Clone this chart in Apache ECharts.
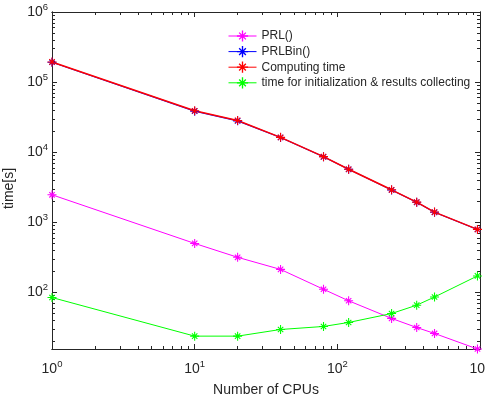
<!DOCTYPE html>
<html>
<head>
<meta charset="utf-8">
<script src="https://cdn.jsdelivr.net/npm/echarts@6/dist/echarts.min.js"></script>
<style>
  html, body { margin: 0; padding: 0; background: #fff; }
  #chart { width: 485px; height: 398px; }
</style>
</head>
<body>
<div id="chart"></div>
<script>
const cpus = [1, 10, 20, 40, 80, 120, 240, 360, 480, 960]
const prl = [2470, 500, 317, 213, 111, 76, 42.6, 31.6, 26, 15.6]
const prlBin = [192000, 38500, 28000, 16200, 8600, 5700, 2890, 1930, 1390, 790]
const computing = [194000, 39000, 28400, 16300, 8650, 5710, 2910, 1940, 1400, 793]
const initCollect = [84.6, 23.8, 23.8, 29.6, 32.7, 37.3, 50, 65.8, 86, 172]
const legends = ['PRL()', 'PRLBin()', 'Computing time', 'time for initialization & results collecting']

const xMajor = [1, 10, 100, 1000]
const yMajor = [100, 1000, 10000, 100000, 1000000]
// 2..9 in every decade
const minorOf = (from, to) => {
  const out = []
  for (let d = from; d < to; d *= 10) {
    for (let k = 2; k <= 9; k++) out.push(d * k)
  }
  return out
}
const xMinor = minorOf(1, 1000)
const yMinor = minorOf(10, 1000000)

const axisColor = '#262626'
const font = 'Liberation Sans, Arial, sans-serif'

// MATLAB-like asterisk marker (+ and x together)
const star = 'path://M0 8.8L20 8.8L20 11.2L0 11.2Z' +
  'M8.8 0L11.2 0L11.2 20L8.8 20Z' +
  'M4.85 3.15L16.85 15.15L15.15 16.85L3.15 4.85Z' +
  'M16.85 4.85L4.85 16.85L3.15 15.15L15.15 3.15Z'

const powLabel = (v) => {
  const e = Math.round(Math.log10(v))
  return '{b|10}{s|' + e + '}'
}
const rich = {
  b: { fontSize: 14, color: axisColor, fontFamily: font },
  s: { fontSize: 9.5, color: axisColor, fontFamily: font, padding: [0, 0, 10, 0] }
}

const xRange = { type: 'log', logBase: 10, min: 1, max: 1000 }
const yRange = { type: 'log', logBase: 10, min: 15.6, max: 1000000 }
const lineStyle = { color: axisColor, width: 1 }

function xAx(pos, ticks, len, labels) {
  return {
    ...xRange,
    position: pos,
    gridIndex: 0,
    axisLine: { show: true, lineStyle },
    axisTick: { show: true, inside: true, length: len, customValues: ticks, lineStyle },
    axisLabel: labels
      ? { show: true, customValues: xMajor, formatter: powLabel, rich, margin: 10 }
      : { show: false },
    splitLine: { show: false },
    minorTick: { show: false }
  }
}
function yAx(pos, ticks, len, labels) {
  return {
    ...yRange,
    position: pos,
    gridIndex: 0,
    axisLine: { show: true, lineStyle },
    axisTick: { show: true, inside: true, length: len, customValues: ticks, lineStyle },
    axisLabel: labels
      ? { show: true, customValues: yMajor, formatter: powLabel, rich, margin: 4 }
      : { show: false },
    splitLine: { show: false },
    minorTick: { show: false }
  }
}

const xAxes = [
  xAx('bottom', xMajor, 5, true),
  xAx('bottom', xMinor, 3, false),
  xAx('top', xMajor, 5, false),
  xAx('top', xMinor, 3, false)
]
xAxes[0].name = 'Number of CPUs'
xAxes[0].nameLocation = 'middle'
xAxes[0].nameGap = 34
xAxes[0].nameTextStyle = { fontSize: 14, color: axisColor, fontFamily: font }

const yAxes = [
  yAx('left', yMajor, 5, true),
  yAx('left', yMinor, 3, false),
  yAx('right', yMajor, 5, false),
  yAx('right', yMinor, 3, false)
]
yAxes[0].name = 'time[s]'
yAxes[0].nameLocation = 'middle'
yAxes[0].nameGap = 33
yAxes[0].nameTextStyle = { fontSize: 14, color: axisColor, fontFamily: font, padding: [0, 0, 0, -16] }

function mkSeries(name, values, color, width) {
  return {
    name: name,
    type: 'line',
    xAxisIndex: 0,
    yAxisIndex: 0,
    data: cpus.map((c, i) => [c, values[i]]),
    symbol: star,
    symbolSize: 9,
    clip: false,
    lineStyle: { color: color, width: width },
    itemStyle: { color: color }
  }
}

const option = {
  animation: false,
  textStyle: { fontFamily: font },
  grid: { left: 52, right: 5, top: 12, bottom: 49, containLabel: false, outerBoundsMode: 'none' },
  legend: {
    data: legends,
    orient: 'vertical',
    left: 223,
    top: 25,
    itemWidth: 28,
    itemHeight: 14,
    itemGap: 3.6,
    lineStyle: { width: 1 },
    textStyle: { fontSize: 12, color: axisColor, fontFamily: font }
  },
  xAxis: xAxes,
  yAxis: yAxes,
  series: [
    mkSeries(legends[0], prl, '#ff00ff', 1),
    mkSeries(legends[1], prlBin, '#0000ff', 1.2),
    mkSeries(legends[2], computing, '#ff0000', 1.5),
    mkSeries(legends[3], initCollect, '#00ff00', 1)
  ]
}

const myChart = echarts.init(document.getElementById('chart'))
myChart.setOption(option)
</script>
</body>
</html>
